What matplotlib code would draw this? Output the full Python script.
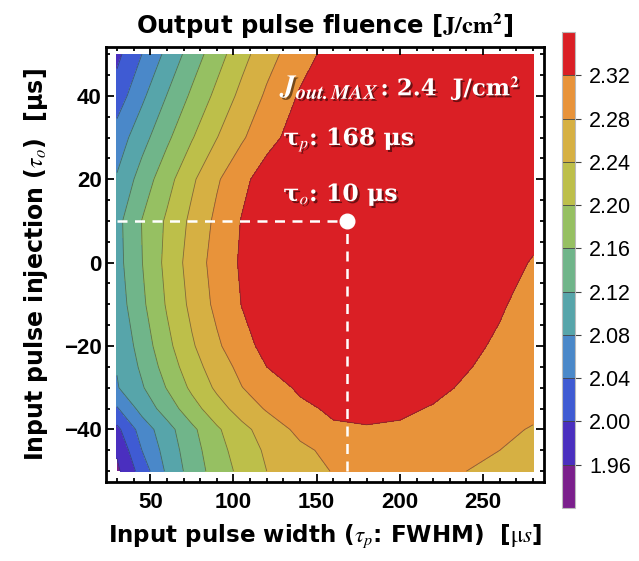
import numpy as np
import matplotlib.pyplot as plt
import matplotlib.patheffects as pe

plt.rcParams['font.family'] = ['Liberation Sans', 'DejaVu Sans']
plt.rcParams['mathtext.fontset'] = 'stix'

# grid: pulse width (us) x injection (us)
widths = [30, 45, 60, 75, 90, 105, 120, 140, 160, 180, 200, 220, 240, 260, 280]
injections = [50, 40, 30, 20, 10, 0, -10, -20, -25, -30, -35, -40, -45, -50]
fluence = [
    [1.990, 2.040, 2.090, 2.138, 2.183, 2.226, 2.265, 2.304, 2.335, 2.338, 2.340, 2.340, 2.340, 2.338, 2.335],
    [2.018, 2.072, 2.121, 2.167, 2.210, 2.251, 2.286, 2.324, 2.340, 2.343, 2.345, 2.345, 2.344, 2.342, 2.340],
    [2.058, 2.105, 2.152, 2.197, 2.239, 2.275, 2.307, 2.338, 2.345, 2.348, 2.350, 2.350, 2.348, 2.345, 2.342],
    [2.084, 2.137, 2.185, 2.233, 2.275, 2.310, 2.338, 2.347, 2.352, 2.354, 2.354, 2.352, 2.349, 2.345, 2.340],
    [2.108, 2.161, 2.206, 2.249, 2.289, 2.322, 2.335, 2.347, 2.354, 2.355, 2.354, 2.350, 2.345, 2.338, 2.330],
    [2.106, 2.159, 2.211, 2.257, 2.296, 2.325, 2.336, 2.346, 2.352, 2.353, 2.351, 2.346, 2.339, 2.331, 2.318],
    [2.099, 2.152, 2.204, 2.250, 2.290, 2.321, 2.332, 2.341, 2.346, 2.348, 2.345, 2.340, 2.333, 2.323, 2.310],
    [2.086, 2.137, 2.189, 2.235, 2.273, 2.308, 2.330, 2.335, 2.340, 2.342, 2.340, 2.334, 2.326, 2.316, 2.302],
    [2.082, 2.127, 2.177, 2.223, 2.260, 2.291, 2.320, 2.330, 2.336, 2.338, 2.336, 2.331, 2.322, 2.311, 2.299],
    [2.077, 2.116, 2.162, 2.208, 2.247, 2.279, 2.301, 2.326, 2.332, 2.333, 2.332, 2.327, 2.316, 2.306, 2.295],
    [2.036, 2.094, 2.138, 2.184, 2.224, 2.257, 2.284, 2.312, 2.326, 2.327, 2.325, 2.318, 2.307, 2.296, 2.287],
    [1.990, 2.057, 2.105, 2.151, 2.194, 2.229, 2.257, 2.290, 2.315, 2.318, 2.316, 2.308, 2.297, 2.286, 2.278],
    [1.965, 2.040, 2.096, 2.143, 2.185, 2.219, 2.246, 2.272, 2.290, 2.297, 2.297, 2.292, 2.285, 2.280, 2.270],
    [1.952, 2.017, 2.087, 2.137, 2.178, 2.211, 2.240, 2.262, 2.282, 2.292, 2.293, 2.288, 2.280, 2.272, 2.263],
]
levels = [1.928, 1.96, 2.00, 2.04, 2.08, 2.12, 2.16, 2.20, 2.24, 2.28, 2.32, 2.36]
colors = ['#7b1f8c', '#4a2fbf', '#3f5bd3', '#4a88c9', '#57a5aa', '#70b58a',
          '#96c062', '#bdbf4a', '#d6b043', '#e8933a', '#da1f25']
best_width = 168
best_injection = 10

fig = plt.figure(figsize=(6.39, 5.61), dpi=100)
ax = fig.add_axes([106/639, 1-482/561, 438/639, 435/561])
cax = fig.add_axes([562/639, 1-508/561, 13/639, 476/561])

X, Y = np.meshgrid(widths, injections)
Z = np.array(fluence)
cf = ax.contourf(X, Y, Z, levels=levels, colors=colors)
ax.contour(X, Y, Z, levels=levels[1:-1], colors='#333333', linewidths=0.6, alpha=0.55)

ax.set_xlim(23.4, 286.6)
ax.set_ylim(-52.6, 51.7)
ax.set_xticks([50, 100, 150, 200, 250])
ax.set_xticks(np.arange(30, 290, 10), minor=True)
ax.set_yticks([-40, -20, 0, 20, 40])
ax.set_yticks(np.arange(-50, 55, 5), minor=True)
ax.tick_params(which='both', direction='in', top=True, right=True, width=1.3)
ax.tick_params(which='major', length=6, labelsize=16)
ax.tick_params(which='minor', length=3)
ax.tick_params(axis='x', pad=7)
ax.tick_params(axis='y', pad=3)
for lab in ax.get_xticklabels() + ax.get_yticklabels():
    lab.set_fontweight('bold')
for s in ax.spines.values():
    s.set_linewidth(2)

# optimum marker
ax.plot([widths[0], best_width], [best_injection, best_injection], color='white',
        lw=1.8, dashes=(4, 3))
ax.plot([best_width, best_width], [injections[-1], best_injection], color='white',
        lw=1.8, dashes=(4, 3))
ax.plot(best_width, best_injection, 'o', color='white', markersize=10.5)

shadow = [pe.SimplePatchShadow(offset=(1.5, -1.5), shadow_rgbFace='black', alpha=0.5), pe.Normal()]
txt = dict(color='white', fontweight='bold', family=['DejaVu Serif'], path_effects=shadow)
jt = ax.text(128.5, 40.2, r'$\mathbfit{J}_{\mathbfit{out.MAX}}$', fontsize=21,
             va='baseline', ha='left', **txt)
ax.annotate(r': 2.4  J/cm$^{\mathbf{2}}$', xy=(1, 0), xycoords=jt, xytext=(0, 4),
            textcoords='offset points', va='baseline', ha='left', fontsize=16.5, **txt)
ax.text(130, 29.5, r'τ$_{p}$: 168 μs', fontsize=17, va='center', ha='left', **txt)
ax.text(130, 16.3, r'τ$_{o}$: 10 μs', fontsize=17, va='center', ha='left', **txt)

lab_font = dict(fontweight='bold', family=['DejaVu Sans'])
ax.set_title(r'Output pulse fluence [$\mathbf{J/cm^2}$]', fontsize=17.5, pad=10, **lab_font)
ax.set_xlabel(r'Input pulse width ($\tau_p$: FWHM)  [$\mathrm{μ}s$]', fontsize=16.6,
              labelpad=7, **lab_font)
ax.set_ylabel(r'Input pulse injection ($\tau_o$)  [μs]', fontsize=17,
              labelpad=10, **lab_font)

cb = fig.colorbar(cf, cax=cax, ticks=levels[1:-1], drawedges=True)
cb.dividers.set_color('#444444')
cb.dividers.set_linewidth(0.6)
cb.outline.set_edgecolor('#bbbbbb')
cb.outline.set_linewidth(0.8)
cb.ax.tick_params(labelsize=15.5, length=4, width=0.8, color='#444444', pad=6)
cb.ax.set_yticklabels(['%.2f' % v for v in levels[1:-1]])

fig.savefig('out.png', dpi=100)
